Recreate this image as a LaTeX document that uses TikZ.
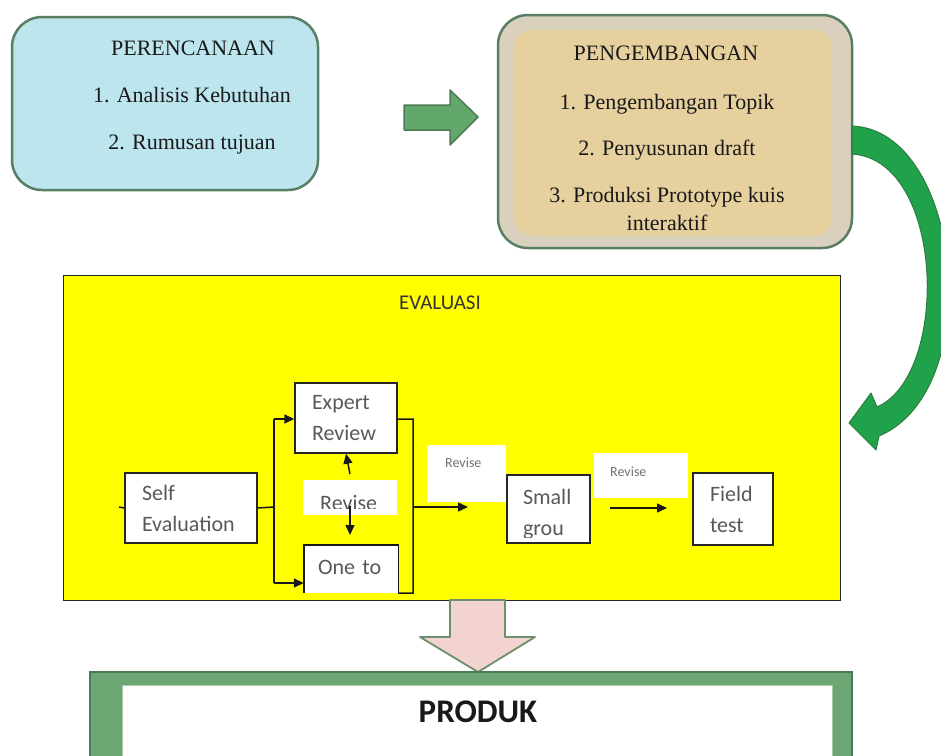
\documentclass[tikz,border=0pt]{standalone}
\usepackage{fontspec}
\setmainfont{Liberation Serif}
\newfontfamily\calfont{Carlito}
\usetikzlibrary{arrows.meta}
\definecolor{cyanfill}{HTML}{BCE5EE}
\definecolor{edgeg}{HTML}{587E63}
\definecolor{bandfill}{HTML}{D9D1BD}
\definecolor{tanfill}{HTML}{E6D09E}
\definecolor{blockfill}{HTML}{62A86C}
\definecolor{blockedge}{HTML}{4B7D55}
\definecolor{curvefill}{HTML}{20A24A}
\definecolor{curveedge}{HTML}{2E7D40}
\definecolor{pinkfill}{HTML}{F2D3D0}
\definecolor{pinkedge}{HTML}{6E8E6E}
\definecolor{prodfill}{HTML}{6BA673}
\definecolor{prodedge}{HTML}{4D7A56}
\definecolor{evalyellow}{HTML}{FFFF00}
\tikzset{
  topbox/.style={draw=edgeg, line width=2.5pt, rounded corners=30pt, inner sep=0},
  sline/.style={font=\fontsize{22}{26}\selectfont, text=black!90, anchor=mid, inner sep=0},
  ebox/.style={draw=black!85, line width=1.4pt, fill=white, inner sep=0, align=left,
    font=\calfont\fontsize{22}{31}\selectfont, text=black!65},
  etxt/.style={inner sep=0, align=left, font=\calfont\fontsize{22}{31}\selectfont, text=black!65},
  wbox/.style={fill=white, inner sep=0},
  smalltxt/.style={inner sep=0, anchor=west, font=\calfont\fontsize{14}{16}\selectfont, text=black!55},
  con/.style={line width=1.5pt, draw=black!90},
  arr/.style={con, -{Triangle[length=10pt,width=9pt]}},
  blockarrow/.style={fill=blockfill, draw=blockedge, line width=1.5pt, line join=round},
}
\begin{document}
\begin{tikzpicture}[x=1pt,y=-1pt]
\clip (0,0) rectangle (941,755);
\fill[white] (0,0) rectangle (941,755);

% ---------- PERENCANAAN ----------
\node[topbox, fill=cyanfill, minimum width=306, minimum height=173] (plan) at (165,103.5) {};
\node[sline] (planT) at (193,53) {PERENCANAAN};
\node[sline] (plan1) at (192,100) {1. Analisis Kebutuhan};
\node[sline] (plan2) at (192,147) {2. Rumusan tujuan};

% ---------- block arrow right ----------
\draw[blockarrow] (404,105) -- (450,105) -- (450,90) -- (478,117) -- (450,145) -- (450,130) -- (404,130) -- cycle;

% ---------- PENGEMBANGAN ----------
\node[topbox, fill=bandfill, minimum width=354, minimum height=233] (dev) at (675,131.5) {};
\node[fill=tanfill, inner sep=0, minimum width=318, minimum height=206, rounded corners=18pt] (devin) at (673,133) {};
\node[sline] (devT) at (666,58) {PENGEMBANGAN};
\node[sline] (dev1) at (667,107) {1. Pengembangan Topik};
\node[sline] (dev2) at (667,153) {2. Penyusunan draft};
\node[sline] (dev3) at (667,200) {3. Produksi Prototype kuis};
\node[sline] (dev4) at (667,228) {interaktif};

% ---------- curved arrow ----------
\draw[fill=curvefill, draw=curveedge, line width=1pt, line join=round]
  (852,126) .. controls (962,130) and (988,390) .. (879,436)
  -- (876,450) -- (849,423) -- (871,393) -- (877,407)
  .. controls (950,375) and (945,160) .. (852,154) -- cycle;

% ---------- EVALUASI ----------
\node[fill=evalyellow, draw=black!85, line width=1pt, minimum width=777, minimum height=325, inner sep=0] (eval) at (451.5,437.5) {};
\node[inner sep=0, font=\calfont\fontsize{21}{25}\selectfont, text=black!80] (evalT) at (440,303) {EVALUASI};

\node[ebox, minimum width=132, minimum height=70, text width=98] (self) at (191,508) {Self\\Evaluation};
\node[ebox, minimum width=102, minimum height=70, text width=68] (expert) at (346,418) {Expert\\Review};

% One to (bottom edge cut off)
\node[wbox, minimum width=94, minimum height=48] (one) at (351,569) {};
\node[etxt, text width=66] (oneT) at (351,567) {One to};
\draw[con, line width=1.4pt] (one.south west) -- (one.north west) -- (one.north east) -- (one.south east);

% Revise between expert and one
\node[wbox, minimum width=94, minimum height=35] (rev1) at (350,497.5) {};
\begin{scope}
  \clip (rev1.north west) rectangle (397,508);
  \node[etxt, anchor=west] (rev1T) at (320,503) {Revise};
\end{scope}

% Revise 2 and 3
\node[wbox, minimum width=79, minimum height=57] (rev2) at (466.5,473.5) {};
\node[smalltxt] (rev2T) at (445,463) {Revise};
\node[wbox, minimum width=94, minimum height=45] (rev3) at (641,475.5) {};
\node[smalltxt] (rev3T) at (610,472) {Revise};

% Small group
\node[ebox, minimum width=83, minimum height=68] (small) at (548.5,509) {};
\begin{scope}
  \clip (small.north west) rectangle (590,537);
  \node[etxt, text width=51] (smallT) at (548.5,514) {Small\\grou};
\end{scope}

% Field test
\node[ebox, minimum width=80, minimum height=72, text width=46] (field) at (733,509) {Field\\test};

% ---------- connectors ----------
\coordinate (splitL) at (274,507);
\coordinate (splitLt) at (274,419);
\coordinate (splitLb) at (274,583);
\coordinate (joinR) at (413,419);
\coordinate (joinRb) at (413,593);
\coordinate (joinRm) at (413,507);
\coordinate (toSmall) at (468,507);
\coordinate (stub) at (119,507);
\draw[con] (stub) -- (self.west);
\draw[con] (self.east) -- (splitL);
\draw[con] (splitLt) -- (splitLb);
\draw[arr] (splitLt) -- (expert.west |- splitLt);
\draw[arr] (splitLb) -- (one.west |- splitLb);
\draw[con] (expert.east |- joinR) -- (joinR) -- (joinRb) -- (one.south east);
\draw[arr] (joinRm) -- (toSmall);
\coordinate (upS) at (350,474);
\coordinate (dnS) at (350,506);
\coordinate (dnE) at (350,535);
\draw[arr] (upS) -- (expert.south);
\draw[arr] (dnS) -- (dnE);
\coordinate (fA) at (610,508);
\coordinate (fB) at (667,508);
\draw[arr] (fA) -- (fB);

% ---------- down arrow ----------
\draw[fill=pinkfill, draw=pinkedge, line width=1.8pt, line join=round]
  (450,600) -- (505,600) -- (505,637) -- (535,637) -- (478,672) -- (420,637) -- (450,637) -- cycle;

% ---------- PRODUK ----------
\node[fill=prodfill, draw=prodedge, line width=1.5pt, minimum width=762, minimum height=100, inner sep=0] (prod) at (471,722) {};
\node[fill=white, draw=prodfill!60, line width=0.6pt, minimum width=710, minimum height=90, inner sep=0] (prodin) at (477,730) {};
\node[inner sep=0, font=\calfont\bfseries\fontsize{33}{37}\selectfont, text=black!90] (prodT) at (478,712) {PRODUK};
\end{tikzpicture}
\end{document}
